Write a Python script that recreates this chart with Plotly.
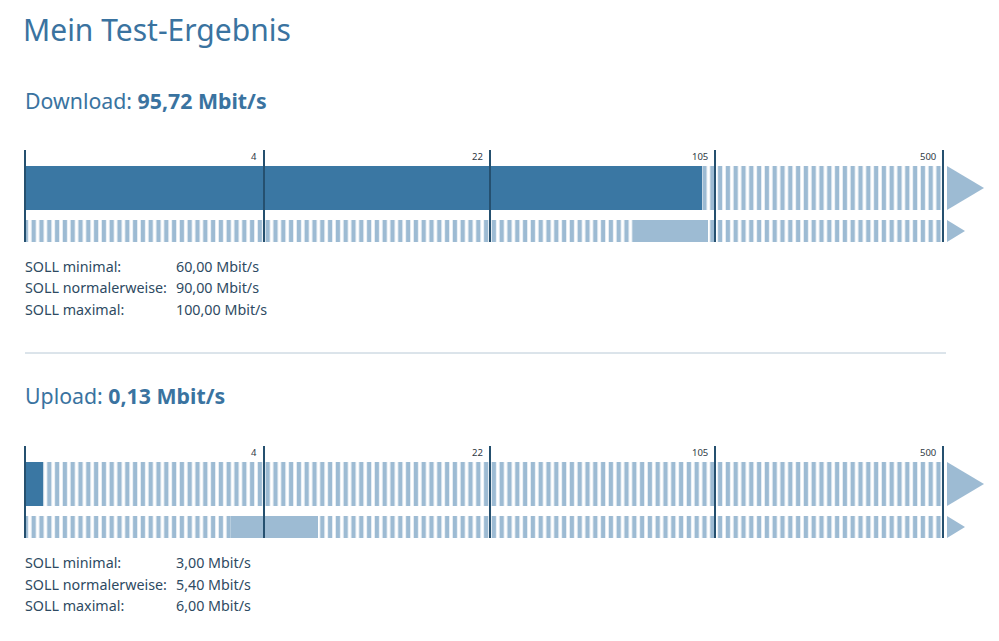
import math
import plotly.graph_objects as go

# ---------------- data ----------------
TITLE = "Mein Test-Ergebnis"
SCALE_BREAKS = [0, 4, 22, 105, 500]
SCALE_LABELS = ["", "4", "22", "105", "500"]
BLOCK_NAMES = ["Download", "Upload"]
MEASURED = [95.72, 0.13]
SOLL_LABELS = ["SOLL minimal:", "SOLL normalerweise:", "SOLL maximal:"]
SOLL_DOWNLOAD = [60.0, 90.0, 100.0]
SOLL_UPLOAD = [3.0, 5.4, 6.0]
UNIT = "Mbit/s"

# ---------------- style / layout ----------------
PAGE_MARGIN = 8                         # default body margin of the html page
W, H = 999 - 2 * PAGE_MARGIN, 641 - 2 * PAGE_MARGIN
SEG_PX = [239, 226, 225, 228]          # pixel width of each scale segment
X0_PX = 25                              # left edge of the scale (window px)
BLOCK_TOP_PX = [150, 446]               # top of tick lines per block
HEADER_Y_PX = [100, 395]
BLOCK_H = 92
TOP_BAR_C, TOP_BAR_W = 38, 44
BOT_BAR_C, BOT_BAR_W = 81, 22
SOLL_ROW_OFF = [116, 138, 159]
SOLL_VAL_X_PX = 176
SEP_Y_PX = 353

DARK = "#3a77a3"
LIGHT = "#9dbbd3"
TICK = "#25506f"
HEAD = "#3a73a0"
TXT = "#2e4a62"
FONT = "Noto Sans"


def fmt(v):
    return f"{v:,.2f}".replace(",", "X").replace(".", ",").replace("X", ".")


def scale_pos(v):
    off = 0.0
    for i in range(len(SEG_PX)):
        lo, hi = SCALE_BREAKS[i], SCALE_BREAKS[i + 1]
        if v <= hi or i == len(SEG_PX) - 1:
            if i == 0:
                f = math.log1p(v) / math.log1p(hi)
            else:
                f = math.log(v / lo) / math.log(hi / lo)
            return off + f * SEG_PX[i]
        off += SEG_PX[i]


def px_x(x):
    return (x - PAGE_MARGIN) / W


def px_y(y):
    return 1 - (y - PAGE_MARGIN) / H


END = scale_pos(SCALE_BREAKS[-1])
AX_LEFT, AX_RIGHT = -3, 962   # axis units are pixels relative to X0_PX

fig = go.Figure()
shapes = []
annotations = []

stripe = dict(shape="|", fgcolor=LIGHT, bgcolor="white", size=7.8,
              solidity=0.56, fgopacity=1)

for b, (name, meas, soll) in enumerate(zip(BLOCK_NAMES, MEASURED,
                                            [SOLL_DOWNLOAD, SOLL_UPLOAD])):
    xa = "x" if b == 0 else "x2"
    ya = "y" if b == 0 else "y2"
    top = BLOCK_TOP_PX[b]

    # striped backgrounds
    fig.add_trace(go.Bar(orientation="h", y=[TOP_BAR_C], base=[0], x=[END],
                         width=TOP_BAR_W, xaxis=xa, yaxis=ya,
                         marker=dict(color="white", pattern=stripe, line_width=0),
                         hoverinfo="skip", showlegend=False))
    fig.add_trace(go.Bar(orientation="h", y=[BOT_BAR_C], base=[0], x=[END],
                         width=BOT_BAR_W, xaxis=xa, yaxis=ya,
                         marker=dict(color="white", pattern=stripe, line_width=0),
                         hoverinfo="skip", showlegend=False))
    # measured value
    fig.add_trace(go.Bar(orientation="h", y=[TOP_BAR_C], base=[0],
                         x=[scale_pos(meas)], width=TOP_BAR_W,
                         xaxis=xa, yaxis=ya,
                         marker=dict(color=DARK, line_width=0),
                         name=name, showlegend=False))
    # SOLL range min..max
    s0, s1 = scale_pos(soll[0]), scale_pos(soll[-1])
    fig.add_trace(go.Bar(orientation="h", y=[BOT_BAR_C], base=[s0],
                         x=[s1 - s0], width=BOT_BAR_W,
                         xaxis=xa, yaxis=ya,
                         marker=dict(color=LIGHT, line_width=0),
                         name="SOLL", showlegend=False))

    # arrows
    g = 4
    t0, t1 = TOP_BAR_C - TOP_BAR_W / 2, TOP_BAR_C + TOP_BAR_W / 2
    shapes.append(dict(type="path", xref=xa, yref=ya, line_width=0,
                       fillcolor=LIGHT, layer="above",
                       path=f"M{END+g},{t0} L{END+g+37},{TOP_BAR_C} L{END+g},{t1} Z"))
    u0, u1 = BOT_BAR_C - BOT_BAR_W / 2, BOT_BAR_C + BOT_BAR_W / 2
    shapes.append(dict(type="path", xref=xa, yref=ya, line_width=0,
                       fillcolor=LIGHT, layer="above",
                       path=f"M{END+g},{u0} L{END+g+18},{BOT_BAR_C} L{END+g},{u1} Z"))

    # tick lines and labels
    for brk, lab in zip(SCALE_BREAKS, SCALE_LABELS):
        xp = scale_pos(brk)
        shapes.append(dict(type="line", xref=xa, yref=f"{ya} domain",
                           x0=xp, x1=xp, y0=0, y1=1, layer="above",
                           line=dict(color=TICK, width=2)))
        if lab:
            annotations.append(dict(x=xp, xref=xa, y=6, yref=ya, text=lab,
                                    xanchor="right", yanchor="middle",
                                    xshift=-5, showarrow=False,
                                    font=dict(family=FONT, size=9.5, color="#2f3a44")))

    # header
    annotations.append(dict(x=px_x(X0_PX - 2), y=px_y(HEADER_Y_PX[b]),
                            xref="paper", yref="paper", xanchor="left",
                            yanchor="middle", showarrow=False,
                            text=f"{name}: <b>{fmt(meas)} {UNIT}</b>",
                            font=dict(family=FONT, size=21.3, color=HEAD)))
    # SOLL rows
    for lab, val, off in zip(SOLL_LABELS, soll, SOLL_ROW_OFF):
        yy = px_y(top + off)
        annotations.append(dict(x=px_x(X0_PX - 2), y=yy, xref="paper",
                                yref="paper", xanchor="left", yanchor="middle",
                                showarrow=False, text=lab,
                                font=dict(family=FONT, size=14.3, color=TXT)))
        annotations.append(dict(x=px_x(SOLL_VAL_X_PX - 2), y=yy, xref="paper",
                                yref="paper", xanchor="left", yanchor="middle",
                                showarrow=False, text=f"{fmt(val)} {UNIT}",
                                font=dict(family=FONT, size=14.3, color=TXT)))

# title, its box kept fully inside the figure's top edge
annotations.append(dict(x=px_x(X0_PX - 3), y=1, xref="paper", yref="paper",
                        xanchor="left", yanchor="top", showarrow=False,
                        borderpad=0,
                        text=TITLE, font=dict(family=FONT, size=30, color=HEAD)))

# separator
shapes.append(dict(type="line", xref="paper", yref="paper",
                   x0=px_x(25), x1=px_x(946), y0=px_y(SEP_Y_PX), y1=px_y(SEP_Y_PX),
                   line=dict(color="#b8c9d6", width=1)))

xdom = [px_x(X0_PX + AX_LEFT), px_x(X0_PX + AX_RIGHT)]
axx = dict(range=[AX_LEFT, AX_RIGHT], domain=xdom, showgrid=False,
           zeroline=False, showticklabels=False, ticks="", fixedrange=True)


def ydom(top):
    return [px_y(top + BLOCK_H), px_y(top)]


axy = dict(range=[BLOCK_H, 0], showgrid=False, zeroline=False,
           showticklabels=False, ticks="", fixedrange=True)

fig.update_layout(
    width=W, height=H,
    margin=dict(l=0, r=0, t=0, b=0),
    paper_bgcolor="white", plot_bgcolor="white",
    barmode="overlay", bargap=0,
    xaxis=dict(axx), yaxis=dict(axy, domain=ydom(BLOCK_TOP_PX[0])),
    xaxis2=dict(axx, anchor="y2"),
    yaxis2=dict(axy, domain=ydom(BLOCK_TOP_PX[1]), anchor="x2"),
    shapes=shapes, annotations=annotations,
    showlegend=False,
)

fig.write_html("out.html")
